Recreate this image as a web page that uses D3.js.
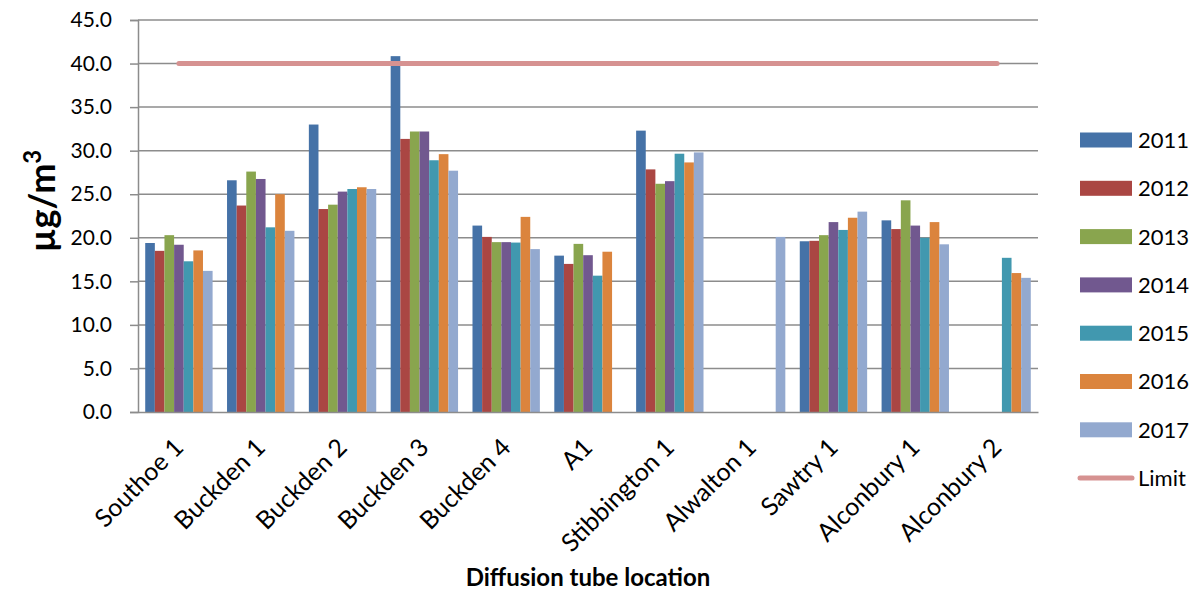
<!DOCTYPE html>
<html>
<head>
<meta charset="utf-8">
<script src="https://cdn.jsdelivr.net/npm/d3@7"></script>
<style>
  body { margin: 0; background: #fff; }
  text { font-family: Lato, "Open Sans", sans-serif; fill: #000; }
</style>
</head>
<body>
<div id="chart"></div>
<script>
// categories and series
const locations = ['Southoe 1', 'Buckden 1', 'Buckden 2', 'Buckden 3', 'Buckden 4', 'A1',
  'Stibbington 1', 'Alwalton 1', 'Sawtry 1', 'Alconbury 1', 'Alconbury 2'];
const years = ['2011', '2012', '2013', '2014', '2015', '2016', '2017'];

const v2011 = [19.4, 26.6, 33.0, 40.85, 21.4, 17.95, 32.3, null, 19.6, 22.0, null];
const v2012 = [18.5, 23.7, 23.3, 31.35, 20.1, 17.0, 27.85, null, 19.65, 21.0, null];
const v2013 = [20.3, 27.6, 23.8, 32.2, 19.5, 19.3, 26.2, null, 20.3, 24.3, null];
const v2014 = [19.2, 26.75, 25.3, 32.2, 19.5, 18.0, 26.5, null, 21.8, 21.4, null];
const v2015 = [17.3, 21.2, 25.6, 28.9, 19.45, 15.65, 29.65, null, 20.9, 20.0, 17.7];
const v2016 = [18.55, 25.0, 25.8, 29.6, 22.4, 18.4, 28.65, null, 22.3, 21.8, 15.95];
const v2017 = [16.2, 20.8, 25.6, 27.7, 18.7, null, 29.8, 20.1, 23.0, 19.25, 15.4];
const limitValues = [40, 40, 40, 40, 40, 40, 40, 40, 40, 40, 40];

const yTicks = [0, 5, 10, 15, 20, 25, 30, 35, 40, 45];

const seriesValues = [v2011, v2012, v2013, v2014, v2015, v2016, v2017];
const colors = ['#4572A7', '#AA4643', '#89A54E', '#71588F', '#4198AF', '#DB843D', '#93A9CF'];
const limitColor = '#D69291';

const W = 1200, H = 594;
const margin = { top: 20, right: 162, bottom: 182, left: 138 };
const width = W - margin.left - margin.right;
const height = H - margin.top - margin.bottom;

const svg = d3.select('#chart').append('svg')
  .attr('width', W)
  .attr('height', H);

const g = svg.append('g')
  .attr('transform', 'translate(' + margin.left + ',' + margin.top + ')');

// scales
const x0 = d3.scaleBand().domain(locations).range([0, width]).paddingInner(0).paddingOuter(0);
const x1 = d3.scaleBand().domain(years).range([0, x0.bandwidth()]).paddingOuter(0.75);
const y = d3.scaleLinear().domain([0, 45]).range([height, 0]);

// gridlines
g.append('g')
  .selectAll('line')
  .data(yTicks.filter(d => d > 0))
  .join('line')
  .attr('x1', 0).attr('x2', width)
  .attr('y1', d => y(d)).attr('y2', d => y(d))
  .attr('stroke', '#8c8c8c')
  .attr('stroke-width', 1.5);

// bars
const groups = g.append('g')
  .selectAll('g')
  .data(locations)
  .join('g')
  .attr('transform', d => 'translate(' + x0(d) + ',0)');

groups.selectAll('rect')
  .data((loc, i) => years.map((yr, j) => ({ yr: yr, j: j, v: seriesValues[j][i] })))
  .join('rect')
  .filter(d => d.v !== null)
  .attr('x', d => x1(d.yr))
  .attr('width', x1.bandwidth())
  .attr('y', d => y(d.v))
  .attr('height', d => y(0) - y(d.v))
  .attr('fill', d => colors[d.j]);

// limit line
const line = d3.line()
  .x((d, i) => x0(locations[i]) + x0.bandwidth() / 2)
  .y(d => y(d));

g.append('path')
  .datum(limitValues)
  .attr('fill', 'none')
  .attr('stroke', limitColor)
  .attr('stroke-width', 5)
  .attr('stroke-linecap', 'round')
  .attr('d', line);

// y axis
const yAxis = d3.axisLeft(y)
  .tickValues(yTicks)
  .tickSize(8)
  .tickPadding(18)
  .tickFormat(d3.format('.1f'));

const yg = g.append('g').call(yAxis);
yg.select('.domain').attr('stroke', '#8c8c8c').attr('stroke-width', 1.5);
yg.selectAll('.tick line').attr('stroke', '#8c8c8c').attr('stroke-width', 1.5);
yg.selectAll('.tick text').attr('font-size', 21).attr('font-family', 'Lato');

// x axis
const xAxis = d3.axisBottom(x0).tickSize(0).tickPadding(0);
const xg = g.append('g')
  .attr('transform', 'translate(0,' + height + ')')
  .call(xAxis);
xg.select('.domain').attr('stroke', '#8c8c8c').attr('stroke-width', 1.5);
xg.selectAll('.tick text')
  .attr('font-size', 25)
  .attr('font-family', 'Lato')
  .attr('text-anchor', 'end')
  .attr('dy', 0)
  .attr('transform', 'translate(6,37) rotate(-45)');

// axis titles
svg.append('text')
  .attr('x', 588)
  .attr('y', 586)
  .attr('text-anchor', 'middle')
  .attr('font-size', 24)
  .attr('font-weight', 'bold')
  .text('Diffusion tube location');

const yt = svg.append('text')
  .attr('transform', 'translate(55,201) rotate(-90)')
  .attr('text-anchor', 'middle')
  .attr('font-size', 36)
  .attr('font-weight', 'bold');
yt.append('tspan').text('µg/m');
yt.append('tspan').attr('font-size', 24).attr('dy', -14).text('3');

// legend
const legend = svg.append('g').attr('transform', 'translate(1080,140)');
const legendItems = years.concat(['Limit']);
const li = legend.selectAll('g')
  .data(legendItems)
  .join('g')
  .attr('transform', (d, i) => 'translate(0,' + (i * 48.3) + ')');

li.filter(d => d !== 'Limit').append('rect')
  .attr('x', 0).attr('y', -7.5)
  .attr('width', 52).attr('height', 15)
  .attr('fill', (d, i) => colors[i]);

li.filter(d => d === 'Limit').append('line')
  .attr('x1', 0).attr('x2', 52)
  .attr('y1', 0).attr('y2', 0)
  .attr('stroke', limitColor)
  .attr('stroke-width', 5)
  .attr('stroke-linecap', 'round');

li.append('text')
  .attr('x', 58)
  .attr('dy', '0.36em')
  .attr('font-size', 22)
  .text(d => d);
</script>
</body>
</html>
